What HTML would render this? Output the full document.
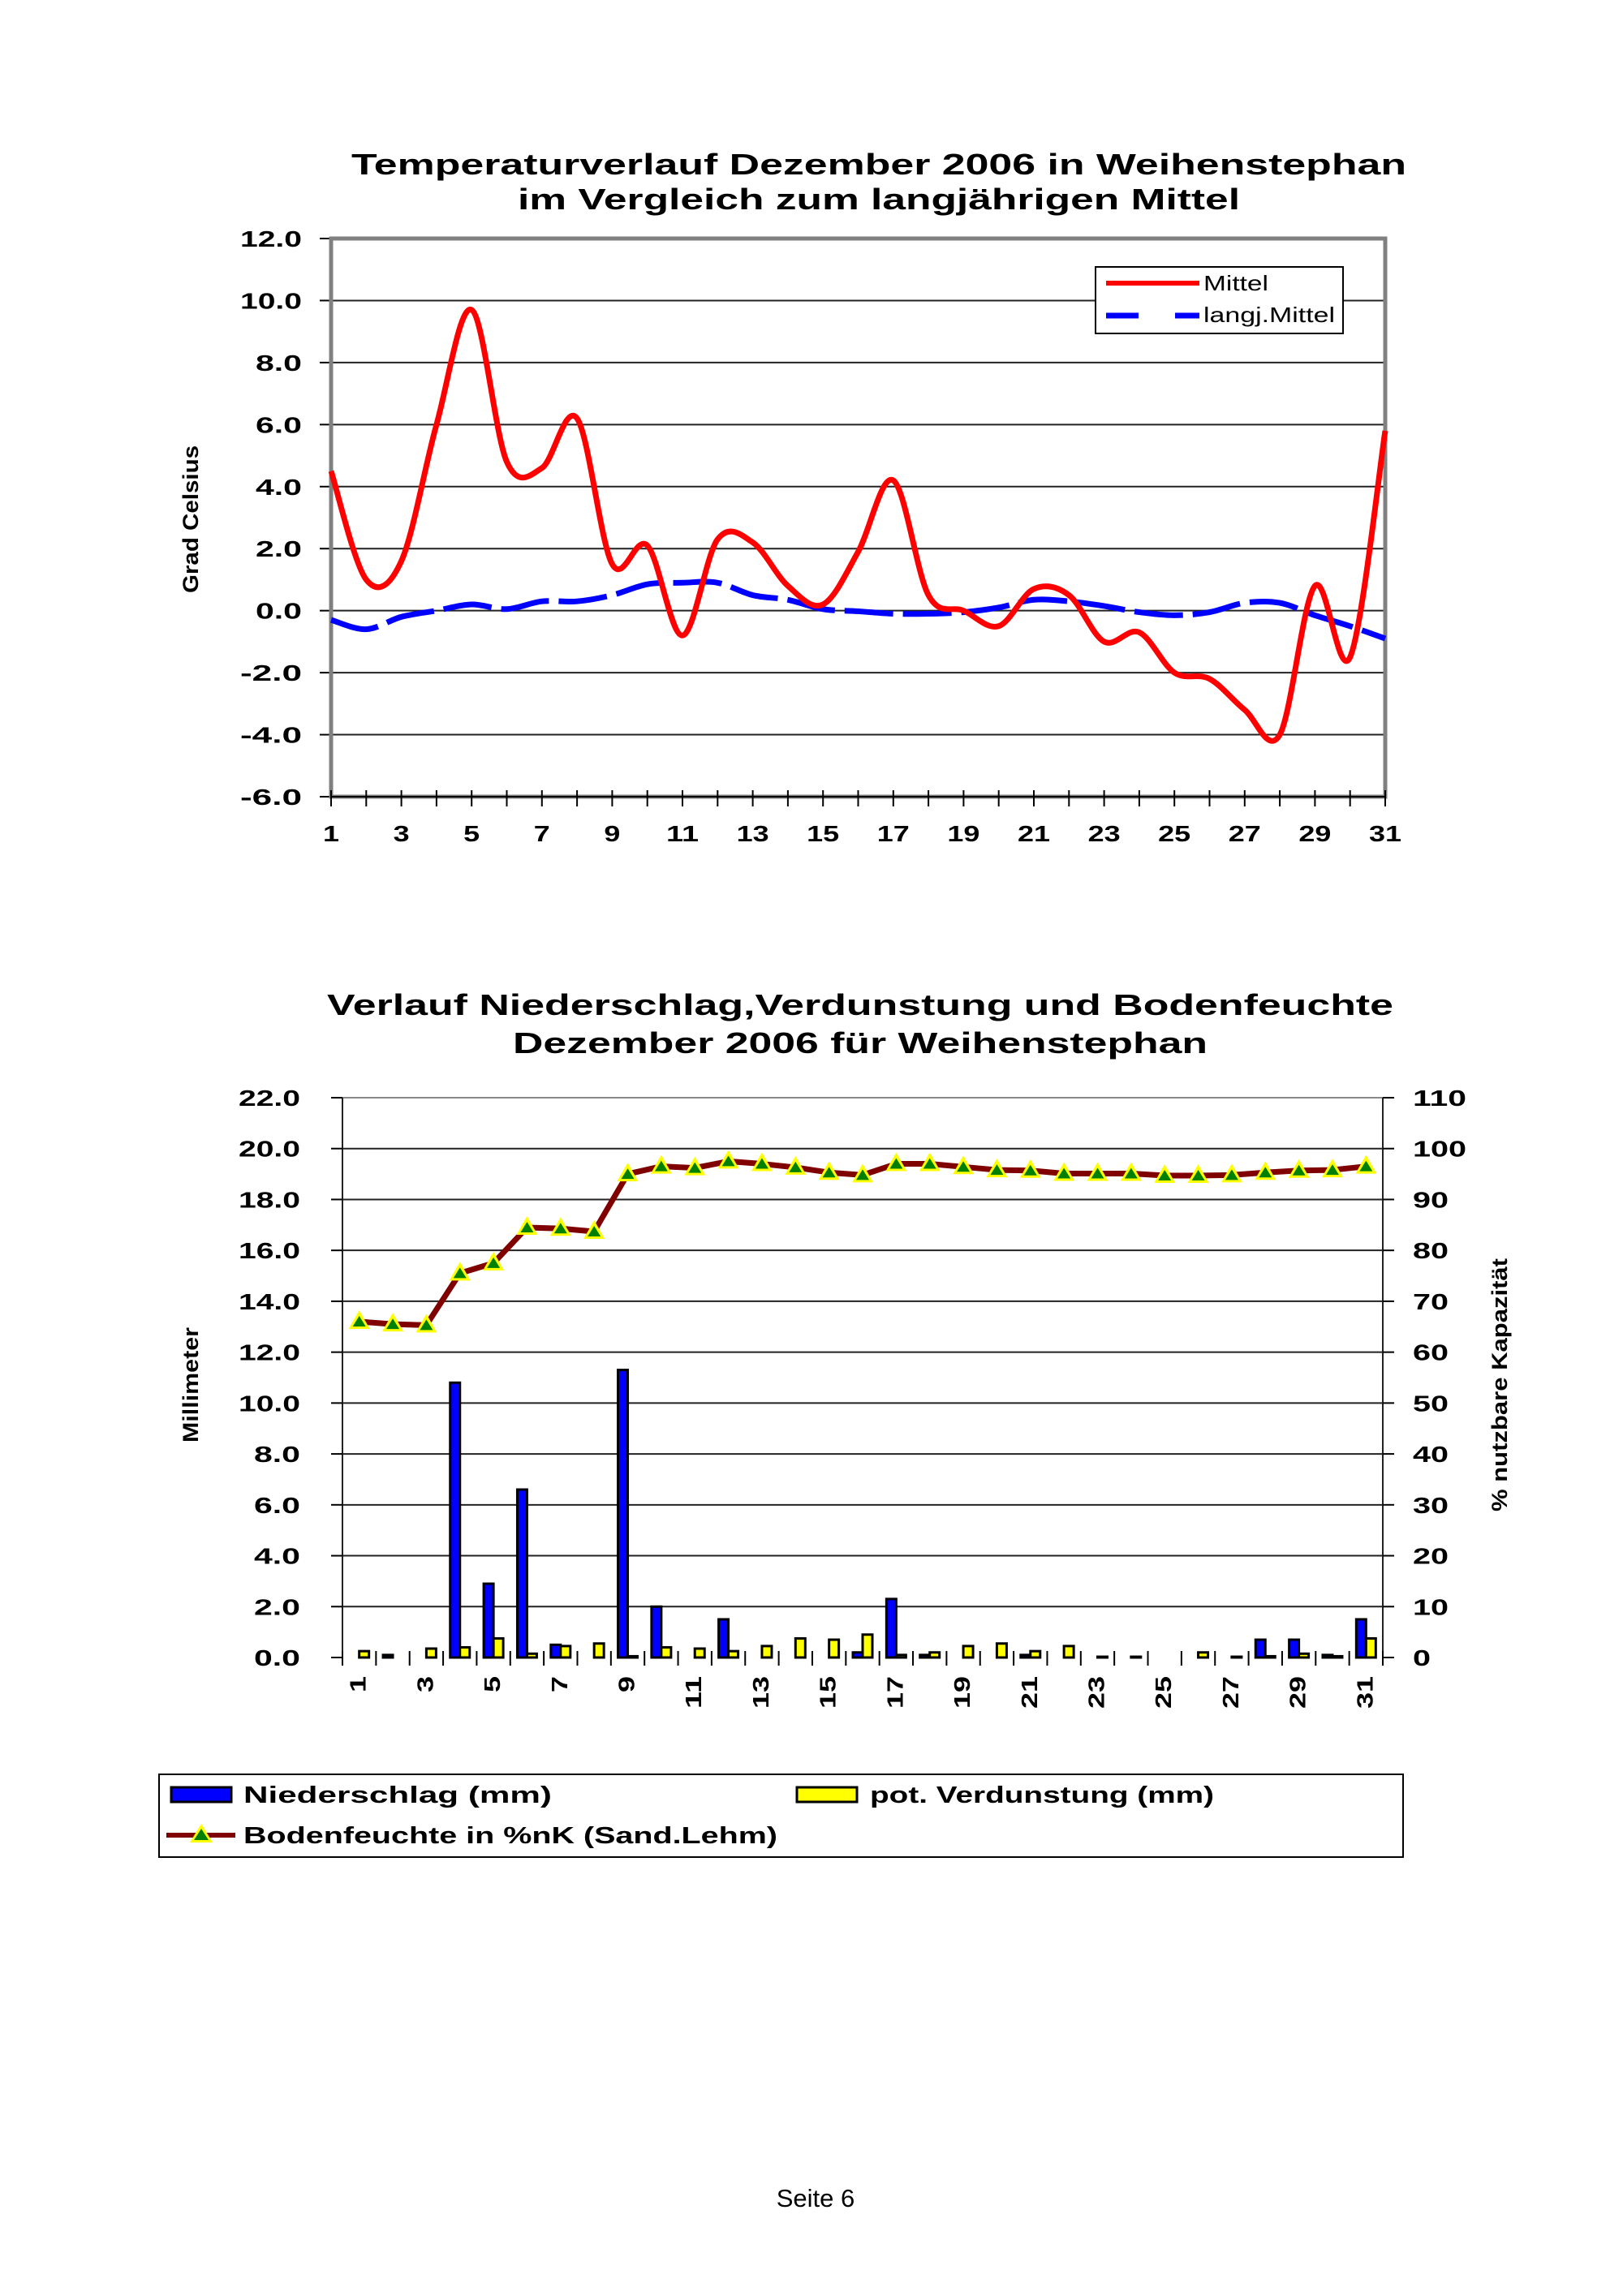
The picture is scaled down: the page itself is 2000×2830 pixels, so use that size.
<!DOCTYPE html>
<html><head><meta charset="utf-8"><style>
html,body{margin:0;padding:0;background:#fff}
svg{display:block}
text{font-family:"Liberation Sans",Arial,sans-serif;fill:#000}
.b{font-weight:bold}
</style></head><body>
<svg id="s" width="2000" height="2830" viewBox="0 0 2000 2830" xmlns="http://www.w3.org/2000/svg">
<rect width="2000" height="2830" fill="#fff"/>
<text class="b" x="1083" y="215" font-size="36" text-anchor="middle" textLength="1300" lengthAdjust="spacingAndGlyphs">Temperaturverlauf Dezember 2006 in Weihenstephan</text>
<text class="b" x="1083" y="258" font-size="36" text-anchor="middle" textLength="890" lengthAdjust="spacingAndGlyphs">im Vergleich zum langjährigen Mittel</text>
<text class="b" font-size="27" text-anchor="middle" transform="translate(244,640) rotate(-90)" textLength="182" lengthAdjust="spacingAndGlyphs">Grad Celsius</text>
<g id="c1"></g>
<rect x="1350" y="329" width="305" height="82" fill="#fff" stroke="#000" stroke-width="2"/>
<line x1="1363" y1="349" x2="1478" y2="349" stroke="#f00" stroke-width="6"/>
<text x="1483" y="358" font-size="26" textLength="80" lengthAdjust="spacingAndGlyphs">Mittel</text>
<line x1="1363" y1="389" x2="1403" y2="389" stroke="#00f" stroke-width="7"/>
<line x1="1448" y1="389" x2="1478" y2="389" stroke="#00f" stroke-width="7"/>
<text x="1483" y="397" font-size="26" textLength="162" lengthAdjust="spacingAndGlyphs">langj.Mittel</text>

<text class="b" x="1060" y="1251" font-size="36" text-anchor="middle" textLength="1314" lengthAdjust="spacingAndGlyphs">Verlauf Niederschlag,Verdunstung und Bodenfeuchte</text>
<text class="b" x="1060" y="1298" font-size="36" text-anchor="middle" textLength="856" lengthAdjust="spacingAndGlyphs">Dezember 2006 für Weihenstephan</text>
<text class="b" font-size="27" text-anchor="middle" transform="translate(244,1707) rotate(-90)" textLength="142" lengthAdjust="spacingAndGlyphs">Millimeter</text>
<text class="b" font-size="27" text-anchor="middle" transform="translate(1857,1707) rotate(-90)" textLength="312" lengthAdjust="spacingAndGlyphs">% nutzbare Kapazität</text>
<g id="c2"></g>
<rect x="196" y="2187" width="1533" height="102" fill="#fff" stroke="#000" stroke-width="2"/>
<g transform="translate(0,-13)">
<rect x="211" y="2216" width="74" height="18" fill="#0000ff" stroke="#000" stroke-width="3"/>
<text class="b" x="300" y="2235" font-size="29" textLength="380" lengthAdjust="spacingAndGlyphs">Niederschlag (mm)</text>
<rect x="982" y="2216" width="74" height="18" fill="#ffff00" stroke="#000" stroke-width="3"/>
<text class="b" x="1072" y="2235" font-size="29" textLength="424" lengthAdjust="spacingAndGlyphs">pot. Verdunstung (mm)</text>
<line x1="205" y1="2275" x2="290" y2="2275" stroke="#800000" stroke-width="6"/>
<polygon points="248,2261 262,2284 234,2284" fill="#ffff00"/>
<polygon points="248,2267 257,2281 239,2281" fill="#008000"/>
<text class="b" x="300" y="2285" font-size="29" textLength="658" lengthAdjust="spacingAndGlyphs">Bodenfeuchte in %nK (Sand.Lehm)</text>
</g>
<text x="1005" y="2720" font-size="31" text-anchor="middle">Seite 6</text>
</svg>
<script>
var NS="http://www.w3.org/2000/svg";
function el(p,n,a,t){var e=document.createElementNS(NS,n);for(var k in a)e.setAttribute(k,a[k]);if(t!=null)e.textContent=t;p.appendChild(e);return e;}
function smooth(pts){var d="M"+pts[0][0]+","+pts[0][1];for(var i=0;i<pts.length-1;i++){var p0=pts[i-1]||pts[i],p1=pts[i],p2=pts[i+1],p3=pts[i+2]||p2;var t=6;d+=" C"+(p1[0]+(p2[0]-p0[0])/t)+","+(p1[1]+(p2[1]-p0[1])/t)+" "+(p2[0]-(p3[0]-p1[0])/t)+","+(p2[1]-(p3[1]-p1[1])/t)+" "+p2[0]+","+p2[1];}return d;}
(function(){
var g=document.getElementById("c1");
var L=408,R=1707,T=294,B=982,st=(R-L)/30,u=(B-T)/18;
function Y(v){return T+(12-v)*u;}
for(var v=-4;v<=10;v+=2){el(g,"line",{x1:L,x2:R,y1:Y(v),y2:Y(v),stroke:"#222","stroke-width":2});}
for(var v=-6;v<=12;v+=2){el(g,"line",{x1:L-14,x2:L,y1:Y(v),y2:Y(v),stroke:"#000","stroke-width":2});
var s=v.toFixed(1);el(g,"text",{"class":"b",x:372,y:Y(v)+10,"font-size":28,"text-anchor":"end",textLength:s.length*19,lengthAdjust:"spacingAndGlyphs"},s);}
el(g,"rect",{x:L,y:T,width:R-L,height:B-T,fill:"none",stroke:"#808080","stroke-width":5});
el(g,"line",{x1:L,x2:R,y1:B,y2:B,stroke:"#000","stroke-width":2});
for(var d=1;d<=31;d++){var x=L+(d-1)*st;el(g,"line",{x1:x,x2:x,y1:B-8,y2:B+12,stroke:"#000","stroke-width":2});
if(d%2)el(g,"text",{"class":"b",x:x,y:1037,"font-size":28,"text-anchor":"middle",textLength:(d>9?40:20),lengthAdjust:"spacingAndGlyphs"},""+d);}
var red=[4.5,1.0,1.6,6.0,9.7,4.8,4.6,6.2,1.5,2.1,-0.8,2.3,2.2,0.8,0.2,1.9,4.2,0.5,0.0,-0.5,0.7,0.5,-1.0,-0.7,-2.0,-2.2,-3.2,-4.0,0.8,-1.5,5.8];
var blue=[-0.3,-0.6,-0.2,0.0,0.2,0.05,0.3,0.3,0.5,0.85,0.9,0.9,0.5,0.35,0.05,-0.02,-0.1,-0.1,-0.05,0.1,0.35,0.3,0.15,-0.05,-0.15,-0.05,0.25,0.25,-0.15,-0.5,-0.9];
function pts(a){return a.map(function(v,i){return [L+i*st,Y(v)];});}
el(g,"path",{d:smooth(pts(blue)),fill:"none",stroke:"#0000ff","stroke-width":7,"stroke-dasharray":"60,12"});
el(g,"path",{d:smooth(pts(red)),fill:"none",stroke:"#ff0000","stroke-width":7,"stroke-linejoin":"round"});
})();
(function(){
var g=document.getElementById("c2");
var L=422,R=1704,T=1353,B=2043,st=(R-L)/31,u=(B-T)/22;
function Y(v){return B-v*u;}
for(var v=2;v<=20;v+=2){el(g,"line",{x1:L,x2:R,y1:Y(v),y2:Y(v),stroke:"#222","stroke-width":2});}
el(g,"line",{x1:L,x2:R,y1:T,y2:T,stroke:"#888","stroke-width":2});
el(g,"line",{x1:L,x2:L,y1:T,y2:B,stroke:"#222","stroke-width":2});
el(g,"line",{x1:R,x2:R,y1:T,y2:B,stroke:"#222","stroke-width":2});
for(var v=0;v<=22;v+=2){el(g,"line",{x1:L-14,x2:L,y1:Y(v),y2:Y(v),stroke:"#000","stroke-width":2});
el(g,"line",{x1:R,x2:R+14,y1:Y(v),y2:Y(v),stroke:"#000","stroke-width":2});
var s=v.toFixed(1);el(g,"text",{"class":"b",x:370,y:Y(v)+10,"font-size":28,"text-anchor":"end",textLength:s.length*19,lengthAdjust:"spacingAndGlyphs"},s);
var r=""+(v*5);el(g,"text",{"class":"b",x:1741,y:Y(v)+10,"font-size":28,textLength:r.length*22,lengthAdjust:"spacingAndGlyphs"},r);}
for(var i=0;i<=31;i++){var x=L+i*st;el(g,"line",{x1:x,x2:x,y1:B-8,y2:B+10,stroke:"#000","stroke-width":2});}
var pr=[0,0.1,0,10.8,2.9,6.6,0.5,0,11.3,2.0,0,1.5,0,0,0,0.2,2.3,0.1,0,0,0.1,0,0,0,0,0,0,0.7,0.7,0.1,1.5];
var ev=[0.25,0,0.35,0.4,0.75,0.15,0.45,0.55,0.05,0.4,0.35,0.25,0.45,0.75,0.7,0.9,0.1,0.2,0.45,0.55,0.25,0.45,0.03,0.03,0,0.2,0.03,0.05,0.15,0.05,0.75];
var sm=[66,65.5,65.3,75.5,77.5,84.5,84.3,83.7,95,96.5,96.2,97.5,97,96.3,95.3,94.8,97,97,96.4,95.8,95.7,95.1,95.1,95.1,94.7,94.7,94.8,95.3,95.7,95.8,96.5];
var lp=[];
for(var d=0;d<31;d++){var c=L+(d+0.5)*st;
if(pr[d]>0){var h=pr[d]*u;el(g,"rect",{x:c-12,y:B-h,width:12,height:h,fill:"#0000ff",stroke:"#000","stroke-width":3});}
if(ev[d]>0){var h=ev[d]*u;el(g,"rect",{x:c,y:B-h,width:12,height:h,fill:"#ffff00",stroke:"#000","stroke-width":3});}
lp.push([c,B-sm[d]/5*u]);
if(d%2==0)el(g,"text",{"class":"b","font-size":28,"text-anchor":"end",transform:"translate("+(c+8)+",2066) rotate(-90)",textLength:(d>8?40:20),lengthAdjust:"spacingAndGlyphs"},""+(d+1));}
el(g,"polyline",{points:lp.map(function(p){return p.join(",");}).join(" "),fill:"none",stroke:"#800000","stroke-width":7,"stroke-linejoin":"round"});
lp.forEach(function(p){var x=p[0],y=p[1];
el(g,"polygon",{points:x+","+(y-14)+" "+(x+13)+","+(y+9)+" "+(x-13)+","+(y+9),fill:"#ffff00"});
el(g,"polygon",{points:x+","+(y-7)+" "+(x+8)+","+(y+6)+" "+(x-8)+","+(y+6),fill:"#008000"});});
})();
</script>
</body></html>
